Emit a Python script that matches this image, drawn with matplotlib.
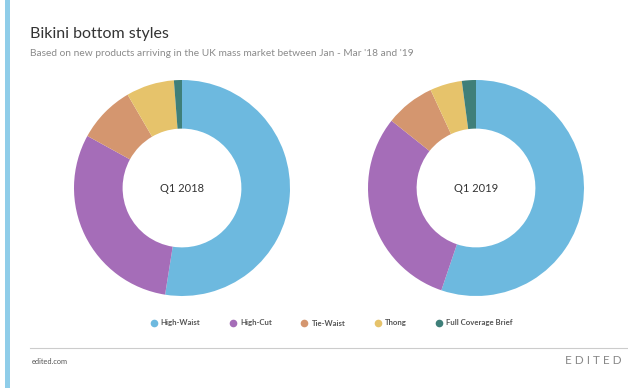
import matplotlib
matplotlib.use('Agg')
import matplotlib.pyplot as plt
from matplotlib.lines import Line2D

plt.rcParams['font.family'] = ['Lato', 'DejaVu Sans']

#%% data
styles = ['High-Waist', 'High-Cut', 'Tie-Waist', 'Thong', 'Full Coverage Brief']
share_2018 = [52.5, 30.5, 8.6, 7.2, 1.2]   # % of new products
share_2019 = [55.2, 30.5, 7.4, 4.8, 2.1]
periods = ['Q1 2018', 'Q1 2019']
colors = ['#6db9df', '#a56db8', '#d4966f', '#e6c36b', '#3f7f79']

#%% figure
W, H = 628, 388
fig = plt.figure(figsize=(W/100, H/100), dpi=100)
fig.patch.set_facecolor('white')

# light blue bar down the left side
fig.add_artist(plt.Rectangle((5/W, 0), 5/W, 1, transform=fig.transFigure,
                             color='#8fcde9', lw=0))

fig.text(30/W, 1-34/H, 'Bikini bottom styles', fontsize=11.5, color='#333333', va='center')
fig.text(30/W, 1-54/H, "Based on new products arriving in the UK mass market between Jan - Mar '18 and '19",
         fontsize=7.3, color='#8a8a8a', va='center')

def donut(cx, cy, r, values, label):
    ax = fig.add_axes([(cx-r)/W, (H-cy-r)/H, 2*r/W, 2*r/H])
    ax.pie(values, colors=colors, startangle=90, counterclock=False, radius=1,
           wedgeprops=dict(width=0.45, edgecolor='none'))
    ax.set_xlim(-1, 1)
    ax.set_ylim(-1, 1)
    ax.set_aspect('equal')
    ax.axis('off')
    ax.text(0, 0, label, ha='center', va='center', fontsize=8, color='#333333')

donut(182, 188, 108, share_2018, periods[0])
donut(476, 188, 108, share_2019, periods[1])

#%% legend
handles = [Line2D([], [], marker='o', ls='none', markersize=5.5, markerfacecolor=c,
                  markeredgecolor='none') for c in colors]
fig.legend(handles, styles, loc='center', bbox_to_anchor=(331/W, 1-323/H), ncol=5,
           frameon=False, prop={'size': 5.6, 'weight': 'bold'}, handletextpad=0.3,
           handlelength=1.2, columnspacing=3.6, labelcolor='#555555')

#%% footer
fig.add_artist(Line2D([30/W, 1], [1-348/H, 1-348/H], transform=fig.transFigure,
                      color='#cccccc', lw=0.8))
fig.text(32/W, 1-361/H, 'edited.com', fontsize=5.3, color='#555555', va='center')
fig.text(622/W, 1-361/H, 'E D I T E D', fontsize=8.5, color='#888888', va='center', ha='right')

plt.savefig('out.png', dpi=100)
